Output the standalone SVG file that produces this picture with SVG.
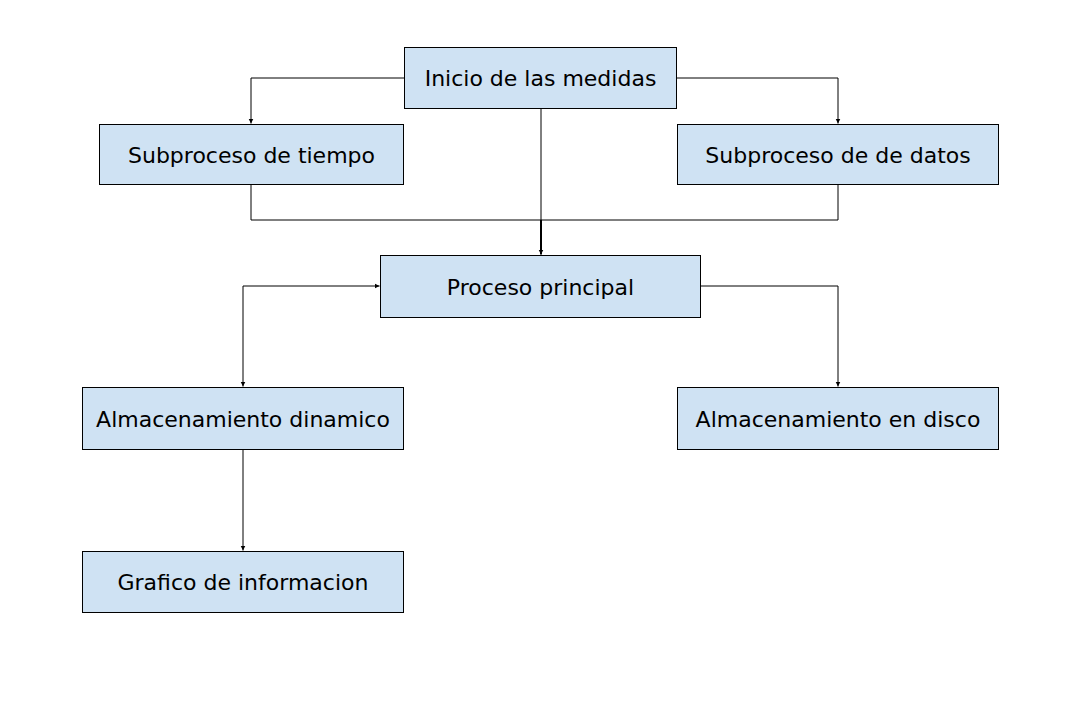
<svg xmlns="http://www.w3.org/2000/svg" width="1082" height="701" viewBox="0 0 1082 701">
<style>
.box{fill:#cfe2f3;stroke:#000;stroke-width:1}
.lbl{font-family:"DejaVu Sans","Liberation Sans",sans-serif;font-size:22px;fill:#000;text-anchor:middle;dominant-baseline:central}
.ln{fill:none;stroke:#000;stroke-width:1}
</style>
<defs>
<marker id="ah" markerWidth="6" markerHeight="6" refX="5" refY="3" orient="auto" markerUnits="userSpaceOnUse">
<path d="M0,0.5 L5,3 L0,5.5 Z" fill="#000"/>
</marker>
</defs>
<rect width="1082" height="701" fill="#fff"/>
<g id="connectors">
<path class="ln" d="M404,78 H251 V123.5" marker-end="url(#ah)"/>
<path class="ln" d="M677,78 H838 V123.5" marker-end="url(#ah)"/>
<path class="ln" d="M541,109 V220"/>
<path class="ln" d="M251,185 V220 H838 V185"/>
<path class="ln" d="M541,220 V254.5" style="stroke-width:2" marker-end="url(#ah)"/>
<path class="ln" d="M243,286 V386.5" marker-end="url(#ah)"/>
<path class="ln" d="M243,286 H379.5" marker-end="url(#ah)"/>
<path class="ln" d="M701,286 H838 V386.5" marker-end="url(#ah)"/>
<path class="ln" d="M243,450 V550.5" marker-end="url(#ah)"/>
</g>
<g id="n-inicio"><rect class="box" x="404.5" y="47.5" width="272" height="61"/><text class="lbl" x="540.5" y="78">Inicio de las medidas</text></g>
<g id="n-tiempo"><rect class="box" x="99.5" y="124.5" width="304" height="60"/><text class="lbl" x="251.5" y="155">Subproceso de tiempo</text></g>
<g id="n-datos"><rect class="box" x="677.5" y="124.5" width="321" height="60"/><text class="lbl" x="838" y="155">Subproceso de de datos</text></g>
<g id="n-principal"><rect class="box" x="380.5" y="255.5" width="320" height="62"/><text class="lbl" x="540.5" y="287">Proceso principal</text></g>
<g id="n-dinamico"><rect class="box" x="82.5" y="387.5" width="321" height="62"/><text class="lbl" x="243" y="419">Almacenamiento dinamico</text></g>
<g id="n-disco"><rect class="box" x="677.5" y="387.5" width="321" height="62"/><text class="lbl" x="838" y="419">Almacenamiento en disco</text></g>
<g id="n-grafico"><rect class="box" x="82.5" y="551.5" width="321" height="61"/><text class="lbl" x="243" y="582">Grafico de informacion</text></g>
</svg>
